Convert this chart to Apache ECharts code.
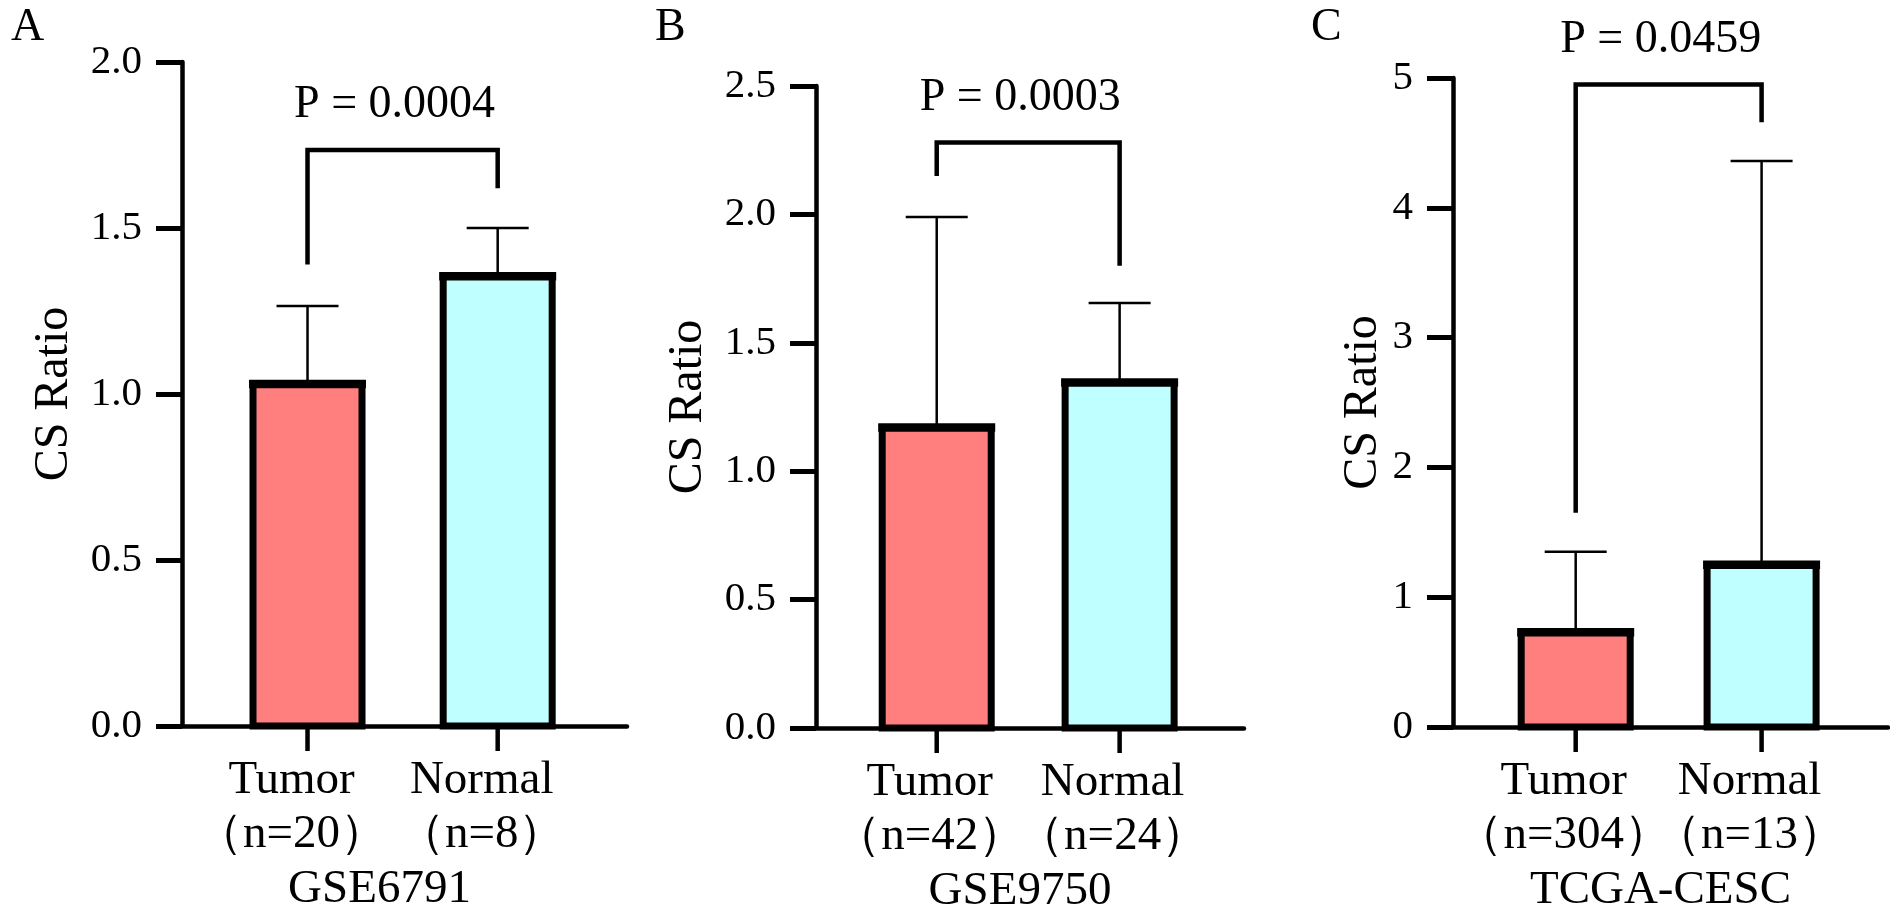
<!DOCTYPE html>
<html>
<head>
<meta charset="utf-8">
<script src="https://cdn.jsdelivr.net/npm/echarts@6/dist/echarts.min.js"></script>
<style>
html,body{margin:0;padding:0;background:#fff;}
#chart{width:1890px;height:922px;}
</style>
</head>
<body>
<div id="chart"></div>
<script>
// ---- data ----
const categories = ['Tumor', 'Normal'];
const panelLetters = ['A', 'B', 'C'];
const datasetNames = ['GSE6791', 'GSE9750', 'TCGA-CESC'];
const nTumor = [20, 42, 304];
const nNormal = [8, 24, 13];
const meanA = [1.03, 1.355];
const upperA = [1.265, 1.50];
const meanB = [1.17, 1.345];
const upperB = [1.99, 1.655];
const meanC = [0.73, 1.25];
const upperC = [1.35, 4.36];
// bracket: [left leg bottom, bar height, right leg bottom]
const bracketA = [1.39, 1.735, 1.62];
const bracketB = [2.15, 2.28, 1.80];
const bracketC = [1.65, 4.95, 4.66];
const pLabels = ['P = 0.0004', 'P = 0.0003', 'P = 0.0459'];
const yMax = [2.0, 2.5, 5];
const yInterval = [0.5, 0.5, 1];
const yDecimals = [1, 1, 0];

const means = [meanA, meanB, meanC];
const uppers = [upperA, upperB, upperC];
const brackets = [bracketA, bracketB, bracketC];
const nCounts = [[nTumor[0], nNormal[0]], [nTumor[1], nNormal[1]], [nTumor[2], nNormal[2]]];

// ---- layout / style ----
const FONT = 'Liberation Serif';
const grids = [
  {left: 182, top: 62, width: 445, height: 664},
  {left: 816, top: 86, width: 428, height: 642},
  {left: 1453, top: 78, width: 435, height: 649}
];
const yNameGap = [104, 104, 66];
const letterLeft = [6, 650, 1306];
const xLabelShift = [-16, -7, -12];
const xNamePad = [50, 20, 20];
const fills = ['#FF7F7F', '#C0FFFF'];
const BAR_W = 109;

const option = {
  animation: false,
  backgroundColor: '#fff',
  title: [],
  grid: [],
  xAxis: [],
  yAxis: [],
  series: []
};

for (let i = 0; i < 3; i++) {
  option.title.push({
    text: panelLetters[i], left: letterLeft[i], top: 0,
    textStyle: {fontFamily: FONT, fontSize: 46, fontWeight: 'normal', color: '#000'}
  });
  option.grid.push(Object.assign({containLabel: false}, grids[i]));
  option.xAxis.push({
    gridIndex: i, type: 'value', min: -0.66, max: 1.68,
    splitLine: {show: false},
    axisLine: {show: true, onZero: false, lineStyle: {color: '#000', width: 4.5}},
    axisTick: {show: false},
    axisLabel: {show: false},
    name: datasetNames[i], nameLocation: 'middle', nameGap: 140,
    nameTextStyle: {fontFamily: FONT, fontSize: 47, color: '#000',
      padding: [0, xNamePad[i], 0, 0]}
  });
  const dec = yDecimals[i];
  option.yAxis.push({
    gridIndex: i, type: 'value', min: 0, max: yMax[i], interval: yInterval[i],
    splitLine: {show: false},
    axisLine: {show: true, onZero: false, lineStyle: {color: '#000', width: 4.5}},
    axisTick: {show: true, length: 26, lineStyle: {color: '#000', width: 5}},
    axisLabel: {fontFamily: FONT, fontSize: 41, color: '#000', margin: 40,
      showMinLabel: true, showMaxLabel: true,
      formatter: v => v.toFixed(dec)},
    name: 'CS Ratio', nameLocation: 'middle', nameGap: yNameGap[i],
    nameTextStyle: {fontFamily: FONT, fontSize: 48, color: '#000'}
  });

  // category ticks and labels below the x axis
  const ns = nCounts[i];
  const shift = xLabelShift[i];
  option.series.push({
    type: 'custom', xAxisIndex: i, yAxisIndex: i, z: 5, clip: false,
    encode: {x: 0, y: 1},
    data: [[0, 0], [1, 0]],
    renderItem: (params, api) => {
      const k = Math.round(api.value(0));
      const p = api.coord([k, 0]);
      return {type: 'group', children: [
        {type: 'line', shape: {x1: p[0], y1: p[1], x2: p[0], y2: p[1] + 25},
          style: {stroke: '#000', lineWidth: 4.5}},
        {type: 'text', x: p[0] + shift, y: p[1] + 28,
          style: {text: categories[k] + '\n（n=' + ns[k] + '）',
            fontFamily: FONT, fontSize: 47, lineHeight: 54, fill: '#000',
            align: 'center', verticalAlign: 'top'}}
      ]};
    }
  });

  // error bars (under bars)
  option.series.push({
    type: 'custom', xAxisIndex: i, yAxisIndex: i, z: 2, clip: false,
    encode: {x: 0, y: [1, 2]},
    data: [[0, means[i][0], uppers[i][0]], [1, means[i][1], uppers[i][1]]],
    renderItem: (params, api) => {
      const p0 = api.coord([api.value(0), api.value(1)]);
      const p1 = api.coord([api.value(0), api.value(2)]);
      const st = {stroke: '#000', lineWidth: 2.5};
      return {type: 'group', children: [
        {type: 'line', shape: {x1: p0[0], y1: p0[1], x2: p1[0], y2: p1[1]}, style: st},
        {type: 'line', shape: {x1: p1[0] - 31, y1: p1[1], x2: p1[0] + 31, y2: p1[1]}, style: st}
      ]};
    }
  });
  // bars
  option.series.push({
    type: 'custom', xAxisIndex: i, yAxisIndex: i, z: 3, clip: false,
    encode: {x: 0, y: 1},
    data: [[0, means[i][0], 0], [1, means[i][1], 1]],
    renderItem: (params, api) => {
      const top = api.coord([api.value(0), api.value(1)]);
      const base = api.coord([api.value(0), 0]);
      const fill = fills[api.value(2)];
      return {type: 'group', children: [
        {type: 'rect', shape: {x: top[0] - BAR_W / 2, y: top[1], width: BAR_W, height: base[1] - top[1]},
          style: {fill: fill, stroke: '#000', lineWidth: 7}},
        {type: 'line', shape: {x1: top[0] - BAR_W / 2 - 4, y1: top[1], x2: top[0] + BAR_W / 2 + 4, y2: top[1]},
          style: {stroke: '#000', lineWidth: 8.5}}
      ]};
    }
  });
  // significance bracket + p label
  const b = brackets[i];
  const pl = pLabels[i];
  option.series.push({
    type: 'custom', xAxisIndex: i, yAxisIndex: i, z: 4, clip: false,
    encode: {x: [0, 1], y: [2, 3, 4]},
    data: [[0, 1, b[0], b[1], b[2]]],
    renderItem: (params, api) => {
      const a = api.coord([api.value(0), api.value(2)]);
      const t1 = api.coord([api.value(0), api.value(3)]);
      const t2 = api.coord([api.value(1), api.value(3)]);
      const c = api.coord([api.value(1), api.value(4)]);
      return {type: 'group', children: [
        {type: 'polyline', shape: {points: [a, t1, t2, c]},
          style: {stroke: '#000', lineWidth: 4.5, fill: null, lineJoin: 'miter'}},
        {type: 'text', x: (t1[0] + t2[0]) / 2 - 8, y: t1[1] - 22,
          style: {text: pl, fontFamily: FONT, fontSize: 46, fill: '#000',
            align: 'center', verticalAlign: 'bottom'}}
      ]};
    }
  });
}

const chart = echarts.init(document.getElementById('chart'));
chart.setOption(option);
</script>
</body>
</html>
